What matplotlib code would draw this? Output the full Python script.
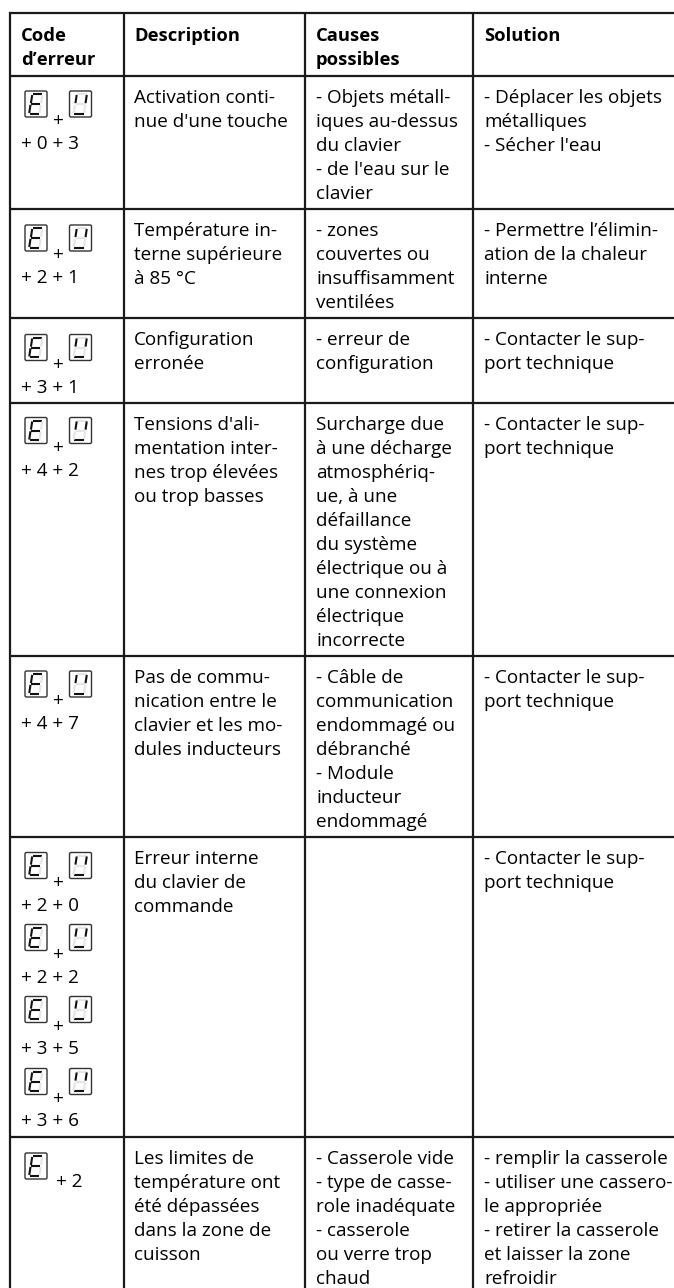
"""Error code table, drawn on one pixel-sized axes."""
import matplotlib
matplotlib.use("Agg")
import matplotlib.pyplot as plt
from matplotlib.patches import FancyBboxPatch

# ------------------------------- table content -------------------------------
HEADERS = [["Code", "d’erreur"], ["Description"], ["Causes", "possibles"], ["Solution"]]
DESCRIPTIONS = [
    ["Activation conti-", "nue d'une touche"],
    ["Température in-", "terne supérieure", "à 85 °C"],
    ["Configuration", "erronée"],
    ["Tensions d'ali-", "mentation inter-", "nes trop élevées", "ou trop basses"],
    ["Pas de commu-", "nication entre le", "clavier et les mo-", "dules inducteurs"],
    ["Erreur interne", "du clavier de", "commande"],
    ["Les limites de", "température ont", "été dépassées", "dans la zone de", "cuisson"],
]
CAUSES = [
    ["- Objets métall-", "iques au-dessus", "du clavier", "- de l'eau sur le", "clavier"],
    ["- zones", "couvertes ou", "insuffisamment", "ventilées"],
    ["- erreur de", "configuration"],
    ["Surcharge due", "à une décharge", "atmosphériq-", "ue, à une", "défaillance",
     "du système", "électrique ou à", "une connexion", "électrique", "incorrecte"],
    ["- Câble de", "communication", "endommagé ou", "débranché", "- Module", "inducteur", "endommagé"],
    [],
    ["- Casserole vide", "- type de casse-", "role inadéquate", "- casserole", "ou verre trop", "chaud"],
]
SOLUTIONS = [
    ["- Déplacer les objets", "métalliques", "- Sécher l'eau"],
    ["- Permettre l’élimin-", "ation de la chaleur", "interne"],
    ["- Contacter le sup-", "port technique"],
    ["- Contacter le sup-", "port technique"],
    ["- Contacter le sup-", "port technique"],
    ["- Contacter le sup-", "port technique"],
    ["- remplir la casserole", "- utiliser une cassero-", "le appropriée", "- retirer la casserole", "et laisser la zone", "refroidir"],
]
CODES = [["+ 0 + 3"], ["+ 2 + 1"], ["+ 3 + 1"], ["+ 4 + 2"], ["+ 4 + 7"],
         ["+ 2 + 0", "+ 2 + 2", "+ 3 + 5", "+ 3 + 6"], ["+ 2"]]

# ------------------------------- layout (pixels) ------------------------------
W, H = 674, 1288
COL_X = [10, 123.5, 304.5, 473]
TEXT_X = [21, 134.3, 316, 484]
ROW_Y = [13, 75.5, 209, 318, 402.5, 655.5, 837, 1137]
BASE_OFFSET = 27
LINE_H = 24
ICON_TOP = [[91], [225], [334.5], [417.5], [671], [852.5, 924.5, 996.5, 1068.5], [1153]]
FONT = ["Open Sans"]
FS = 13.6
FS_BOLD = 13.2
INK = "#1a1a1a"

# segment polylines for a slanted 7-segment digit in unit box (0..1, y down)
SEG = {
    "a": [(0.30, 0.04), (0.92, 0.04)],
    "b": [(0.92, 0.07), (0.84, 0.46)],
    "c": [(0.82, 0.54), (0.74, 0.93)],
    "d": [(0.10, 0.96), (0.72, 0.96)],
    "e": [(0.16, 0.54), (0.08, 0.93)],
    "f": [(0.27, 0.07), (0.19, 0.46)],
    "g": [(0.20, 0.50), (0.80, 0.50)],
}
E_ON = "adefg"
U_ON = "bdf"


def digit(ax, x, y, on):
    ax.add_patch(FancyBboxPatch((x + 1, y), 22, 26, boxstyle="round,pad=0,rounding_size=1.5",
                                fc="white", ec="#333333", lw=1.0))
    gx, gy, gw, gh = x + 4, y + 2.5, 15.5, 21
    for name, pts in SEG.items():
        xs = [gx + px * gw for px, _ in pts]
        ys = [gy + py * gh for _, py in pts]
        active = name in on
        ax.plot(xs, ys, color="#111111" if active else "#e6e6e6",
                lw=1.5 if active else 1.6, solid_capstyle="butt")


def put(ax, x, y, s, weight="normal", size=FS, ha="left"):
    ax.text(x, y, s, family=FONT, fontsize=size, fontweight=weight, color="black",
            ha=ha, va="baseline")


fig = plt.figure(figsize=(W / 100, H / 100), dpi=100)
ax = fig.add_axes([0, 0, 1, 1])
ax.set_xlim(0, W)
ax.set_ylim(H, 0)
ax.axis("off")

for x in COL_X:
    ax.plot([x, x], [ROW_Y[0] - 1, H], color=INK, lw=1.6, solid_capstyle="butt")
for y in ROW_Y:
    ax.plot([COL_X[0] - 1, W], [y, y], color=INK, lw=1.6, solid_capstyle="butt")

for col, lines in enumerate(HEADERS):
    for i, s in enumerate(lines):
        put(ax, TEXT_X[col], 40.7 + i * LINE_H + i * 0.6, s, weight="bold", size=FS_BOLD)

for r, top in enumerate(ROW_Y[1:]):
    for col, cells in ((1, DESCRIPTIONS), (2, CAUSES), (3, SOLUTIONS)):
        for i, s in enumerate(cells[r]):
            put(ax, TEXT_X[col], top + BASE_OFFSET + i * LINE_H, s)
    for it, code in zip(ICON_TOP[r], CODES[r]):
        digit(ax, 24, it, E_ON)
        if code == "+ 2":
            put(ax, 56.5, it + 34, code)
            continue
        digit(ax, 68.5, it, U_ON)
        put(ax, 58, it + 35, "+", ha="center")
        put(ax, TEXT_X[0], it + 58, code)

fig.savefig("out.png", dpi=100)
